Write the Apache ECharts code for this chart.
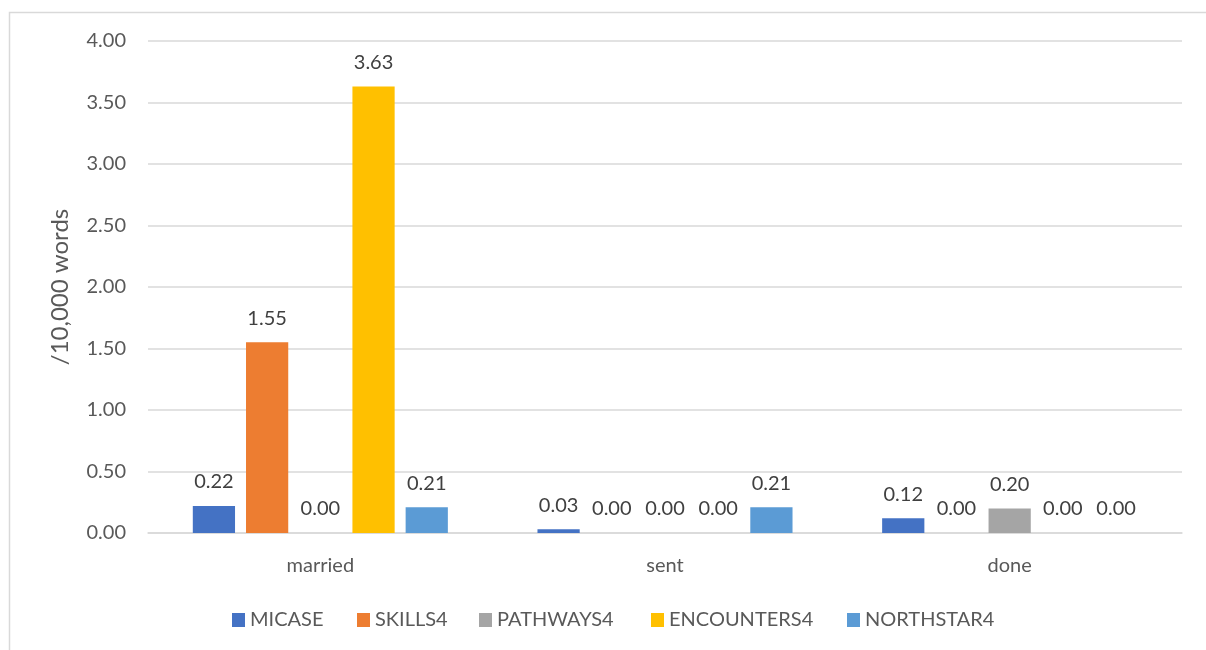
<!DOCTYPE html>
<html>
<head>
<meta charset="utf-8">
<script src="https://cdn.jsdelivr.net/npm/echarts@6/dist/echarts.min.js"></script>
<style>
  html, body { margin: 0; padding: 0; background: #fff; }
  #chart { width: 1206px; height: 650px; }
</style>
</head>
<body>
<div id="chart"></div>
<script>
// Word frequencies per 10,000 words across corpora
const categories = ['married', 'sent', 'done'];
const seriesNames = ['MICASE', 'SKILLS4', 'PATHWAYS4', 'ENCOUNTERS4', 'NORTHSTAR4'];
const micase = [0.22, 0.03, 0.12];
const skills4 = [1.55, 0.00, 0.00];
const pathways4 = [0.00, 0.00, 0.20];
const encounters4 = [3.63, 0.00, 0.00];
const northstar4 = [0.21, 0.21, 0.00];
const yTicks = [0, 0.5, 1, 1.5, 2, 2.5, 3, 3.5, 4];
const yAxisTitle = '/10,000 words';

const colors = ['#4472C4', '#ED7D31', '#A5A5A5', '#FFC000', '#5B9BD5'];
const values = [micase, skills4, pathways4, encounters4, northstar4];
// left edge of each legend entry's swatch
const legendLefts = [232, 357, 479, 651, 847];
const FONT = 'Lato';

const chart = echarts.init(document.getElementById('chart'), null, { renderer: 'canvas' });

chart.setOption({
  animation: false,
  backgroundColor: '#ffffff',
  textStyle: { fontFamily: FONT },
  graphic: [{
    type: 'rect',
    shape: { x: 9.5, y: 12.5, width: 1210, height: 660 },
    style: { fill: 'none', stroke: '#d9d9d9', lineWidth: 1.5 },
    silent: true
  }],
  grid: { left: 148, right: 24, top: 41, bottom: 117, containLabel: false },
  legend: seriesNames.map((name, i) => ({
    data: [name],
    left: legendLefts[i],
    top: 610,
    padding: 0,
    itemWidth: 13,
    itemHeight: 14,
    icon: 'rect',
    textStyle: { fontFamily: FONT, fontSize: 20, color: '#595959' }
  })),
  xAxis: {
    type: 'category',
    data: categories,
    axisLine: { show: true, lineStyle: { color: '#d9d9d9', width: 1.5 } },
    axisTick: { show: false },
    axisLabel: { fontFamily: FONT, fontSize: 20, color: '#595959', margin: 23 },
    splitLine: { show: false }
  },
  yAxis: {
    type: 'value',
    min: yTicks[0],
    max: yTicks[yTicks.length - 1],
    interval: yTicks[1] - yTicks[0],
    name: yAxisTitle,
    nameLocation: 'middle',
    nameGap: 76,
    nameRotate: 90,
    nameTextStyle: { fontFamily: FONT, fontSize: 24, color: '#595959' },
    axisLine: { show: false },
    axisTick: { show: false },
    axisLabel: {
      fontFamily: FONT, fontSize: 20, color: '#595959', margin: 22,
      formatter: v => v.toFixed(2)
    },
    splitLine: { lineStyle: { color: '#d9d9d9', width: 1.5 } }
  },
  series: seriesNames.map((name, i) => ({
    name: name,
    type: 'bar',
    data: values[i],
    barGap: '26%',
    barCategoryGap: '26%',
    itemStyle: { color: colors[i] },
    label: {
      show: true,
      position: 'top',
      distance: 14,
      fontFamily: FONT,
      fontSize: 20,
      color: '#404040',
      formatter: p => p.value.toFixed(2)
    }
  }))
});
</script>
</body>
</html>
